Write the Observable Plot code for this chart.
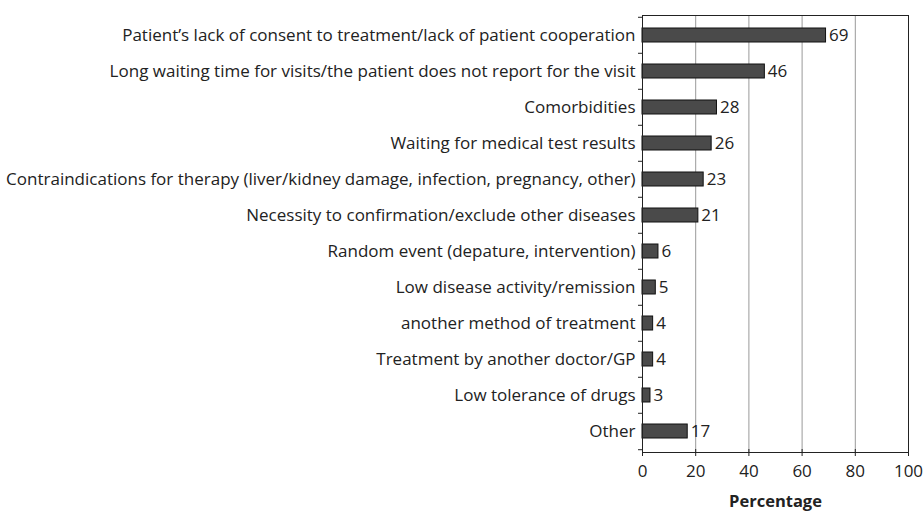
<!DOCTYPE html>
<html>
<head>
<meta charset="utf-8">
<script src="https://cdn.jsdelivr.net/npm/d3@7"></script>
<script src="https://cdn.jsdelivr.net/npm/@observablehq/plot@0.6"></script>
<style>
body { margin: 0; background: #fff; }
#chart svg { font-family: "Open Sans", sans-serif; }
</style>
</head>
<body>
<div id="chart"></div>
<script>
const categories = [
  "Patient’s lack of consent to treatment/lack of patient cooperation",
  "Long waiting time for visits/the patient does not report for the visit",
  "Comorbidities",
  "Waiting for medical test results",
  "Contraindications for therapy (liver/kidney damage, infection, pregnancy, other)",
  "Necessity to confirmation/exclude other diseases",
  "Random event (depature, intervention)",
  "Low disease activity/remission",
  "another method of treatment",
  "Treatment by another doctor/GP",
  "Low tolerance of drugs",
  "Other"
];
const values = [69, 46, 28, 26, 23, 21, 6, 5, 4, 4, 3, 17];
const xTicks = [0, 20, 40, 60, 80, 100];
const gridTicks = [20, 40, 60, 80];
const xLabel = "Percentage";

const data = categories.map((c, i) => ({category: c, value: values[i]}));

const W = 923, H = 511;
const mL = 642, mR = 15, mT = 15, mB = 59;
const step = (H - mT - mB) / categories.length;

const chart = Plot.plot({
  width: W,
  height: H,
  marginLeft: mL,
  marginRight: mR,
  marginTop: mT,
  marginBottom: mB,
  style: {fontSize: "17px", fontFamily: "Open Sans, sans-serif", color: "#222"},
  x: {domain: [0, 100], ticks: xTicks, label: null},
  y: {domain: categories, paddingInner: 0.6, paddingOuter: 0.3, label: null},
  marks: [
    Plot.ruleX(gridTicks, {stroke: "#999", strokeWidth: 1}),
    Plot.barX(data, {y: "category", x: "value", fill: "#4a4a4a", stroke: "#111", strokeWidth: 1}),
    Plot.text(data, {y: "category", x: "value", text: d => String(d.value), dx: 3, textAnchor: "start", fontSize: 17, fill: "#222"}),
    Plot.frame({stroke: "#222", strokeWidth: 1}),
    Plot.axisY({tickSize: 0, tickPadding: 7, fontSize: 17, label: null}),
    // category-boundary ticks on the left axis
    Plot.ruleY(categories, {y: d => d, dy: -step / 2, x1: 0, x2: 0, insetLeft: -4, stroke: "#222"}),
    Plot.ruleY([categories[categories.length - 1]], {y: d => d, dy: step / 2, x1: 0, x2: 0, insetLeft: -4, stroke: "#222"}),
    Plot.axisX({ticks: xTicks, tickSize: 4, tickPadding: 8, fontSize: 17, label: null}),
    Plot.axisX({ticks: xTicks, tickSize: -3, tickFormat: () => "", label: null}),
    Plot.text([xLabel], {frameAnchor: "bottom", dy: 54, fontWeight: "bold", fontSize: 16.5, fill: "#222"})
  ]
});
document.getElementById("chart").appendChild(chart);
</script>
</body>
</html>
